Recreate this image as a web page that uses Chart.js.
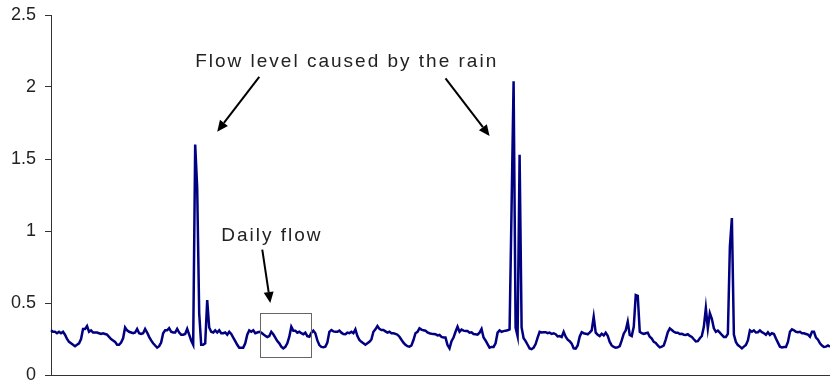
<!DOCTYPE html>
<html>
<head>
<meta charset="utf-8">
<script src="https://cdn.jsdelivr.net/npm/chart.js@4.4.1/dist/chart.umd.min.js"></script>
<style>
  html, body { margin: 0; padding: 0; background: #fff; }
  #wrap { width: 830px; height: 382px; }
</style>
</head>
<body>
<div id="wrap"><canvas id="flow-chart" width="830" height="382"></canvas></div>
<script>
// Flow readings, one sample per step
const flow = [
  .31, .30, .30, .29, .30, .29, .30, .28, .25, .23,
  .22, .21, .20, .21, .22, .25, .32, .32, .34, .30,
  .31, .295, .295, .295, .29, .285, .29, .285, .28, .265,
  .25, .24, .23, .21, .21, .225, .255, .33, .31, .30,
  .295, .29, .295, .32, .29, .285, .29, .32, .295, .265,
  .24, .22, .205, .19, .20, .225, .29, .31, .31, .325,
  .30, .295, .295, .32, .295, .28, .28, .285, .32, .28,
  .24, .21, 1.60, 1.30, .43, .21, .21, .22, .52, .33,
  .30, .295, .31, .295, .31, .29, .29, .295, .28, .30,
  .285, .26, .235, .21, .19, .19, .19, .22, .28, .31,
  .30, .31, .29, .295, .30, .294, .283, .273, .264, .27,
  .30, .283, .26, .236, .22, .197, .185, .195, .22, .266,
  .335, .308, .308, .294, .30, .29, .283, .294, .27, .266,
  .294, .308, .29, .24, .208, .195, .193, .197, .225, .30,
  .312, .303, .30, .30, .308, .294, .285, .283, .294, .29,
  .30, .29, .317, .27, .243, .23, .22, .21, .22, .23,
  .247, .30, .317, .34, .32, .312, .312, .303, .294, .30,
  .29, .29, .286, .28, .266, .245, .225, .21, .20, .197,
  .205, .243, .29, .30, .324, .315, .31, .308, .295, .29,
  .287, .285, .283, .275, .278, .264, .26, .26, .208, .185,
  .235, .26, .30, .335, .30, .315, .308, .305, .305, .294,
  .297, .285, .283, .28, .294, .32, .26, .24, .215, .19,
  .195, .195, .22, .294, .31, .30, .305, .308, .31, .317,
  1.17, 2.04, .33, .27, 1.53, .33, .255, .235, .21, .185,
  .18, .19, .215, .26, .30, .295, .297, .297, .29, .294,
  .285, .29, .283, .268, .27, .264, .30, .266, .245, .235,
  .218, .185, .183, .205, .266, .297, .29, .287, .283, .294,
  .31, .405, .294, .28, .27, .287, .275, .294, .273, .23,
  .205, .195, .19, .192, .20, .24, .287, .31, .37, .278,
  .27, .335, .555, .55, .30, .29, .285, .29, .294, .266,
  .253, .23, .223, .205, .192, .197, .205, .248, .297, .324,
  .3125, .30, .294, .294, .285, .287, .28, .278, .283, .271,
  .264, .248, .233, .235, .255, .271, .335, .465, .324, .43,
  .39, .324, .30, .308, .294, .278, .264, .264, .285, .89,
  1.09, .28, .23, .208, .197, .185, .197, .208, .24, .31,
  .30, .31, .295, .297, .31, .297, .29, .28, .297, .278,
  .29, .285, .253, .225, .197, .192, .195, .195, .23, .30,
  .317, .31, .30, .297, .30, .29, .29, .285, .28, .266,
  .30, .30, .26, .245, .22, .205, .195, .197, .205, .197
];
const samples = flow.map((_, i) => i);
const yTicks = [0, 0.5, 1, 1.5, 2, 2.5];

// callouts, placed in data units (sample index, flow)
const rainLabel = 'Flow level caused by the rain';
const dailyLabel = 'Daily flow';
const callouts = {
  rainText: [72, 2.14],
  rainArrows: [[[104, 2.07], [83, 1.69]], [[197, 2.06], [219, 1.66]]],
  dailyText: [85, 0.93],
  dailyArrow: [[105.5, 0.87], [109.5, 0.50]],
  dailyBox: [[104.3, 0.434], [129.6, 0.128]]
};

const FONT = '"Liberation Sans", Arial, sans-serif';

function arrow(ctx, x1, y1, x2, y2) {
  const a = Math.atan2(y2 - y1, x2 - x1);
  const len = 11, half = 5;
  const bx = x2 - len * Math.cos(a), by = y2 - len * Math.sin(a);
  ctx.beginPath();
  ctx.moveTo(x1, y1);
  ctx.lineTo(bx, by);
  ctx.stroke();
  ctx.beginPath();
  ctx.moveTo(x2, y2);
  ctx.lineTo(bx + half * Math.sin(a), by - half * Math.cos(a));
  ctx.lineTo(bx - half * Math.sin(a), by + half * Math.cos(a));
  ctx.closePath();
  ctx.fill();
}

const calloutPlugin = {
  id: 'callouts',
  afterDatasetsDraw(chart) {
    const { ctx, scales: { x, y } } = chart;
    const pt = ([i, v]) => [x.getPixelForValue(i), y.getPixelForValue(v)];
    ctx.save();
    ctx.fillStyle = '#222';
    ctx.strokeStyle = '#000';
    ctx.font = '19px ' + FONT;
    ctx.letterSpacing = '2px';
    ctx.textBaseline = 'alphabetic';
    let [tx, ty] = pt(callouts.rainText);
    ctx.fillText(rainLabel, tx, ty);
    [tx, ty] = pt(callouts.dailyText);
    ctx.fillText(dailyLabel, tx, ty);

    ctx.fillStyle = '#000';
    ctx.lineWidth = 2;
    callouts.rainArrows.concat([callouts.dailyArrow]).forEach(([a, b]) => {
      const [x1, y1] = pt(a), [x2, y2] = pt(b);
      arrow(ctx, x1, y1, x2, y2);
    });

    const [b1, b2] = callouts.dailyBox.map(pt);
    ctx.lineWidth = 1;
    ctx.strokeStyle = '#666';
    ctx.strokeRect(Math.round(b1[0]) + 0.5, Math.round(b1[1]) + 0.5,
      Math.round(b2[0] - b1[0]), Math.round(b2[1] - b1[1]));
    ctx.restore();
  }
};

new Chart(document.getElementById('flow-chart'), {
  type: 'line',
  data: {
    labels: samples,
    datasets: [{
      data: flow,
      borderColor: '#000080',
      borderWidth: 2.5,
      pointRadius: 0,
      tension: 0,
      fill: false
    }]
  },
  options: {
    responsive: false,
    animation: false,
    layout: { padding: { top: 15, bottom: 7, left: 0, right: 0 } },
    plugins: { legend: { display: false }, tooltip: { enabled: false } },
    scales: {
      x: {
        type: 'category',
        offset: false,
        ticks: { display: false },
        grid: { display: false },
        border: { display: true, color: '#333', width: 1 },
        afterFit: s => { s.height = 0; }
      },
      y: {
        min: yTicks[0],
        max: yTicks[yTicks.length - 1],
        afterBuildTicks: s => { s.ticks = yTicks.map(v => ({ value: v })); },
        ticks: {
          color: '#222',
          padding: 9,
          font: { family: FONT, size: 18 },
          callback: v => String(v)
        },
        grid: { drawOnChartArea: false, tickLength: 6, color: '#333' },
        border: { display: true, color: '#333', width: 1 },
        // fixed axis width; labels may overhang the plot edges
        afterFit: s => { s.width = 51; s.paddingTop = 0; s.paddingBottom = 0; }
      }
    }
  },
  plugins: [calloutPlugin]
});
</script>
</body>
</html>
